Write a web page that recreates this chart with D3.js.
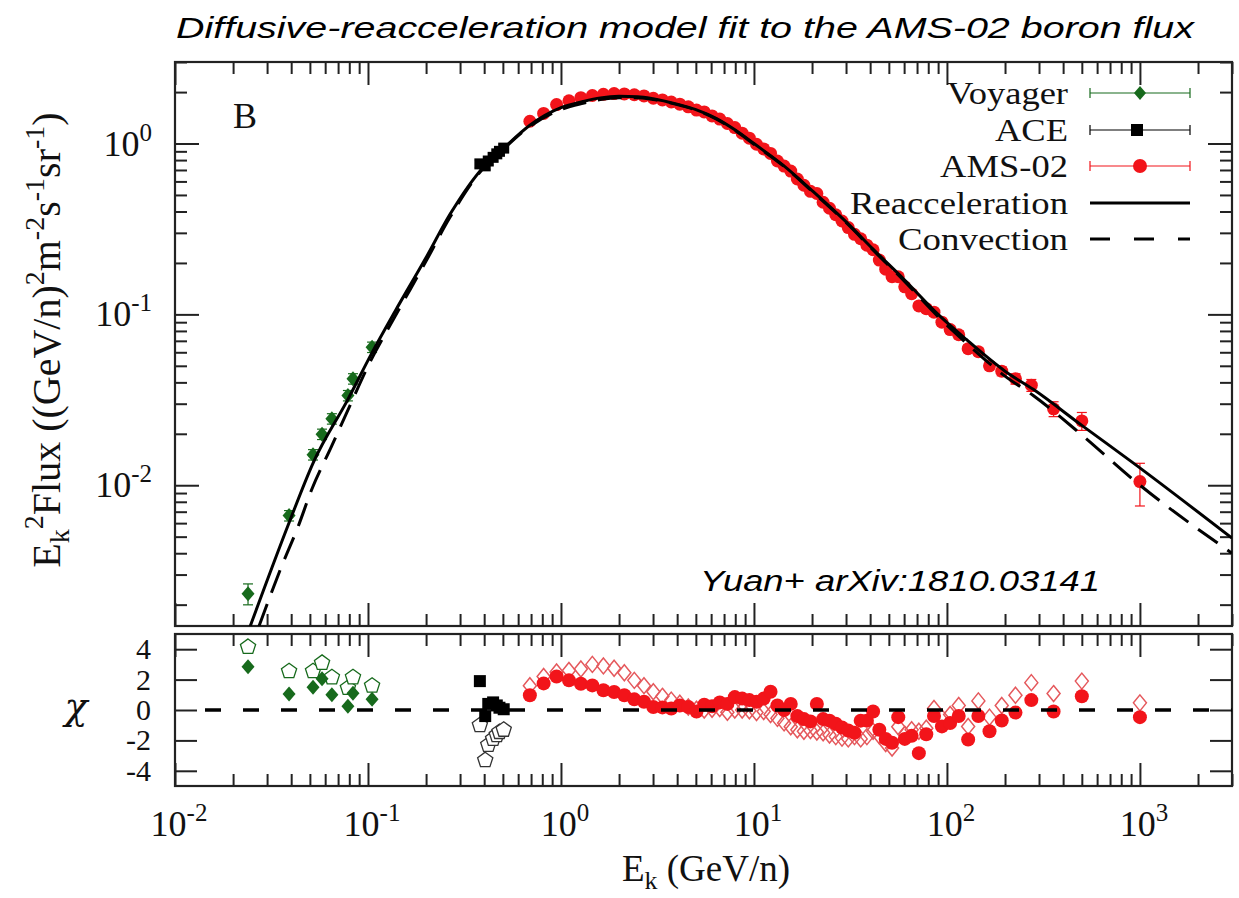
<!DOCTYPE html>
<html><head><meta charset="utf-8">
<script src="https://cdn.jsdelivr.net/npm/d3@7/dist/d3.min.js"></script>
<style>html,body{margin:0;padding:0;background:#fff;} svg{display:block;}</style>
</head><body>
<svg id="chart" width="1239" height="898"></svg>
<script>
// ---------------- DATA ----------------
const voyagerE = [0.0239, 0.039, 0.0519, 0.0578, 0.065, 0.0787, 0.0836, 0.105];
const voyagerF = [0.00232, 0.00664, 0.0151, 0.0199, 0.0245, 0.0335, 0.042, 0.0643];
const voyagerErr = [0.14, 0.07, 0.07, 0.07, 0.07, 0.07, 0.07, 0.07];
const voyagerChiReacc = [2.85, 1.05, 1.5, 2.05, 1.0, 0.25, 1.1, 0.7];
const voyagerChiConv = [4.15, 2.55, 2.55, 3.1, 2.15, 1.45, 2.15, 1.6];

const aceE = [0.38, 0.405, 0.42, 0.445, 0.465, 0.48, 0.505];
const aceF = [0.76, 0.74, 0.79, 0.83, 0.87, 0.90, 0.94];
const aceErr = [0.05, 0.05, 0.05, 0.05, 0.05, 0.05, 0.05];
const aceChiReacc = [1.9, -0.4, 0.4, 0.5, 0.3, 0.15, 0.05];
const aceChiConv = [-1.0, -3.3, -2.3, -1.9, -1.65, -1.45, -1.3];

const amsE = [0.69, 0.813, 0.949, 1.10, 1.268, 1.454, 1.659, 1.885, 2.13, 2.399,
  2.693, 3.01, 3.355, 3.728, 4.129, 4.569, 5.038, 5.525, 6.065, 6.647,
  7.283, 7.957, 8.687, 9.466, 10.31, 11.23, 12.19, 13.23, 14.33, 15.51,
  16.78, 18.15, 19.62, 21.18, 22.83, 24.63, 26.54, 28.59, 30.81, 33.19,
  35.74, 38.48, 41.43, 44.63, 48.16, 51.95, 55.95, 60.44, 65.63, 71.53,
  78.14, 85.69, 94.18, 103.9, 115.1, 128.8, 145.5, 166.2, 192.3, 226.5,
  273.7, 357, 500, 1000];
const amsF = [1.35, 1.50, 1.69, 1.78, 1.855, 1.91, 1.94, 1.96, 1.95, 1.93,
  1.90, 1.84, 1.80, 1.75, 1.70, 1.64, 1.57, 1.53, 1.45, 1.39,
  1.31, 1.24, 1.15, 1.075, 0.99, 0.93, 0.875, 0.79, 0.738, 0.69,
  0.62, 0.57, 0.525, 0.51, 0.453, 0.418, 0.383, 0.352, 0.322, 0.294,
  0.277, 0.254, 0.239, 0.208, 0.184, 0.166, 0.166, 0.145, 0.132, 0.112,
  0.108, 0.103, 0.090, 0.0815, 0.0760, 0.063, 0.0605, 0.050, 0.0465, 0.0420,
  0.0385, 0.028, 0.0238, 0.0105];
const amsErr = [0.03, 0.03, 0.03, 0.03, 0.03, 0.03, 0.03, 0.03, 0.03, 0.03,
  0.03, 0.03, 0.03, 0.03, 0.03, 0.03, 0.03, 0.03, 0.03, 0.03,
  0.03, 0.03, 0.03, 0.03, 0.03, 0.03, 0.03, 0.03, 0.03, 0.03,
  0.03, 0.03, 0.03, 0.03, 0.03, 0.03, 0.03, 0.03, 0.03, 0.03,
  0.04, 0.04, 0.04, 0.04, 0.04, 0.04, 0.04, 0.04, 0.04, 0.04,
  0.05, 0.05, 0.05, 0.05, 0.05, 0.05, 0.05, 0.05, 0.06, 0.07,
  0.08, 0.10, 0.12, 0.28];
const amsChiReacc = [0.97, 1.75, 2.2, 1.95, 1.73, 1.62, 1.3, 1.18, 0.97, 0.7,
  0.54, 0.2, 0.17, 0.1, 0.3, 0.2, -0.1, 0.35, 0.25, 0.5,
  0.4, 0.85, 0.75, 0.65, 0.54, 0.75, 1.2, 0.3, 0.0, 0.4,
  -0.4, -0.6, -0.75, 0.4, -0.6, -0.7, -0.9, -1.15, -1.35, -1.5,
  -0.7, -0.7, -0.1, -1.3, -1.9, -2.15, -0.47, -1.9, -1.7, -2.84,
  -1.6, -0.39, -1.08, -0.86, -0.39, -1.94, -0.39, -1.4, -0.69, -0.17,
  0.65, -0.1, 0.9, -0.47];
const amsChiConv = [1.6, 2.2, 2.5, 2.6, 2.7, 3.0, 2.9, 2.75, 2.45, 1.95,
  1.6, 1.2, 0.9, 0.65, 0.45, 0.2, 0.05, 0.0, 0.05, 0.1,
  -0.15, 0.0, 0.0, -0.05, -0.17, -0.1, -0.3, -0.55, -0.85, -1.1,
  -1.3, -1.4, -1.35, -1.45, -1.5, -1.65, -1.75, -1.85, -1.9, -1.75,
  -1.9, -1.75, -1.4, -1.7, -2.2, -2.5, -1.1, -1.6, -1.3, -1.4,
  -1.2, 0.1, -0.5, -0.3, 0.3, -1.08, 0.6, -0.47, 0.3, 0.97,
  1.8, 1.08, 1.9, 0.47];

const reaccE = [0.0245, 0.039, 0.052, 0.0787, 0.105, 0.138, 0.2, 0.266, 0.395, 0.5, 0.69, 1.0, 1.3, 1.6, 2.0, 2.5, 3.0, 4.0, 5.0, 6.4, 8.0, 10, 14.2, 20, 31.4, 41.4, 60, 90, 126, 200, 280, 500, 922, 3000];
const reaccF = [0.00149, 0.00603, 0.01352, 0.0318, 0.0597, 0.104, 0.215, 0.385, 0.725, 0.93, 1.28, 1.62, 1.76, 1.85, 1.89, 1.88, 1.83, 1.70, 1.58, 1.40, 1.20, 1.00, 0.745, 0.53, 0.331, 0.241, 0.160, 0.100, 0.0713, 0.0465, 0.0364, 0.0224, 0.01352, 0.0049];
const convE = [0.0272, 0.0357, 0.0435, 0.0511, 0.0648, 0.079, 0.1, 0.138, 0.2, 0.266, 0.395, 0.5, 0.69, 1.0, 1.3, 1.6, 2.0, 2.5, 3.0, 4.0, 5.0, 6.4, 8.0, 10, 14.2, 20, 31.4, 41.4, 60, 90, 126, 200, 280, 500, 922, 3000];
const convF = [0.00149, 0.00336, 0.00575, 0.00944, 0.01694, 0.0278, 0.0498, 0.097, 0.205, 0.37, 0.715, 0.92, 1.26, 1.58, 1.72, 1.81, 1.855, 1.855, 1.81, 1.69, 1.57, 1.39, 1.19, 0.99, 0.74, 0.525, 0.328, 0.238, 0.157, 0.097, 0.068, 0.0435, 0.0335, 0.0197, 0.0108, 0.0040];

const xTickExps = ["-2", "-1", "0", "1", "2", "3"];
const yTickExps = ["0", "-1", "-2"];
const chiTicks = [-4, -2, 0, 2, 4];
const legendLabels = ["Voyager", "ACE", "AMS-02", "Reacceleration", "Convection"];
const titleText = "Diffusive-reacceleration model fit to the AMS-02 boron flux";
const noteText = "Yuan+ arXiv:1810.03141";
const panelLabel = "B";

// ---------------- SETUP ----------------
const SERIF = "'Liberation Serif','Times New Roman',Times,serif";
const SANS = "'Liberation Sans',Arial,sans-serif";
const GREEN = "#176a1c", RED = "#f2141a", PINK = "#e5585c", INK = "#111";
const svg = d3.select("#chart");
svg.append("rect").attr("width", 1239).attr("height", 898).attr("fill", "#fff");

const X0 = 175, X1 = 1232, TOP = 62, BOT = 626, CTOP = 634, CBOT = 786;
const x = d3.scaleLog().domain([0.01, 3000]).range([X0, X1]);
const y = d3.scaleLog().domain([0.0015, 3]).range([BOT, TOP]);
const yc = d3.scaleLinear().domain([-5, 5]).range([CBOT, CTOP]);

const xMajor = xTickExps.map(e => Math.pow(10, +e));
const xMinor = [];
xMajor.forEach(m => { for (let k = 2; k <= 9; k++) { const v = k * m; if (v <= 3000) xMinor.push(v); } });
const yMajor = [1, 0.1, 0.01];
const yMinor = [];
[0.001, 0.01, 0.1, 1].forEach(m => { for (let k = 2; k <= 9; k++) { const v = k * m; if (v >= 0.0015 && v <= 3) yMinor.push(v); } });

function tickAxis(axis, tf, vals, len) {
  const g = svg.append("g").attr("transform", tf)
    .call(axis.tickValues(vals).tickSize(-len).tickFormat(""));
  g.select(".domain").remove();
  g.selectAll("line").attr("stroke", "#222").attr("stroke-width", 2);
}
// upper panel ticks
tickAxis(d3.axisBottom(x), `translate(0,${BOT})`, xMajor, 23);
tickAxis(d3.axisBottom(x), `translate(0,${BOT})`, xMinor, 12);
tickAxis(d3.axisTop(x), `translate(0,${TOP})`, xMajor, 23);
tickAxis(d3.axisTop(x), `translate(0,${TOP})`, xMinor, 12);
tickAxis(d3.axisLeft(y), `translate(${X0},0)`, yMajor, 24);
tickAxis(d3.axisLeft(y), `translate(${X0},0)`, yMinor, 12);
tickAxis(d3.axisRight(y), `translate(${X1},0)`, yMajor, 24);
tickAxis(d3.axisRight(y), `translate(${X1},0)`, yMinor, 12);
// lower panel ticks
tickAxis(d3.axisBottom(x), `translate(0,${CBOT})`, xMajor, 23);
tickAxis(d3.axisBottom(x), `translate(0,${CBOT})`, xMinor, 12);
tickAxis(d3.axisTop(x), `translate(0,${CTOP})`, xMajor, 23);
tickAxis(d3.axisTop(x), `translate(0,${CTOP})`, xMinor, 12);
tickAxis(d3.axisLeft(yc), `translate(${X0},0)`, chiTicks, 22);
tickAxis(d3.axisRight(yc), `translate(${X1},0)`, chiTicks, 22);

// frames
[[TOP, BOT], [CTOP, CBOT]].forEach(([t, b]) => {
  svg.append("rect").attr("x", X0).attr("y", t).attr("width", X1 - X0).attr("height", b - t)
    .attr("fill", "none").attr("stroke", "#222").attr("stroke-width", 2.2);
});

// tick labels
function powText(g, px, py, exp, anchor) {
  const t = g.append("text").attr("x", px).attr("y", py).attr("text-anchor", anchor)
    .attr("font-family", SERIF).attr("font-size", 36).attr("fill", INK);
  t.append("tspan").text("10");
  t.append("tspan").attr("dy", -15).attr("font-size", 25).text(exp);
}
const labG = svg.append("g");
xTickExps.forEach((e, i) => powText(labG, x(xMajor[i]) + 4, 836, e, "middle"));
yTickExps.forEach((e, i) => powText(labG, 152, y(yMajor[i]) + 12, e, "end"));
chiTicks.forEach(v => {
  labG.append("text").attr("x", 151).attr("y", yc(v) + 10).attr("text-anchor", "end")
    .attr("font-family", SERIF).attr("font-size", 30).attr("fill", INK).text(v);
});

// axis titles
function richText(g, parts, attrs, fs) {
  const t = g.append("text").attr("font-family", SERIF).attr("font-size", fs).attr("fill", INK);
  Object.entries(attrs).forEach(([k, v]) => t.attr(k, v));
  parts.forEach(p => {
    const s = t.append("tspan").text(p.t);
    if (p.dy) s.attr("dy", p.dy);
    if (p.fs) s.attr("font-size", p.fs);
  });
  return t;
}
richText(svg, [
  { t: "E" }, { t: "k", dy: 9, fs: 28 }, { t: "2", dy: -26, fs: 28 }, { t: "Flux ((GeV/n)", dy: 17 },
  { t: "2", dy: -16, fs: 28 }, { t: "m", dy: 16 }, { t: "-2", dy: -16, fs: 28 }, { t: "s", dy: 16 },
  { t: "-1", dy: -16, fs: 28 }, { t: "sr", dy: 16 }, { t: "-1", dy: -16, fs: 28 }, { t: ")", dy: 16 }
], { "text-anchor": "middle", transform: "translate(60,340) rotate(-90)" }, 40);
richText(svg, [{ t: "E" }, { t: "k", dy: 8, fs: 26 }, { t: " (GeV/n)", dy: -8 }],
  { "text-anchor": "middle", x: 706, y: 881 }, 37);
svg.append("text").attr("x", 76).attr("y", 719).attr("text-anchor", "middle")
  .attr("font-family", "'DejaVu Serif',serif").attr("font-style", "italic")
  .attr("font-size", 38).attr("fill", INK).text("χ");
svg.append("text").attr("x", 233).attr("y", 128).attr("font-family", SERIF)
  .attr("font-size", 36).attr("fill", INK).text(panelLabel);

// title and note
svg.append("text").attr("x", 176).attr("y", 38).attr("font-family", SANS).attr("font-style", "italic")
  .attr("font-size", 30).attr("fill", "#000").attr("textLength", 1018).attr("lengthAdjust", "spacingAndGlyphs")
  .text(titleText);
svg.append("text").attr("x", 700).attr("y", 591).attr("font-family", SANS).attr("font-style", "italic")
  .attr("font-size", 30).attr("fill", "#000").attr("textLength", 400).attr("lengthAdjust", "spacingAndGlyphs")
  .text(noteText);

// clip paths
const defs = svg.append("defs");
defs.append("clipPath").attr("id", "clipTop").append("rect")
  .attr("x", X0).attr("y", TOP).attr("width", X1 - X0).attr("height", BOT - TOP);
defs.append("clipPath").attr("id", "clipBot").append("rect")
  .attr("x", X0).attr("y", CTOP).attr("width", X1 - X0).attr("height", CBOT - CTOP);

// marker shapes
const diamond = (w, h) => `M0,${-h}L${w},0L0,${h}L${-w},0Z`;
const pentagon = r => d3.line()(d3.range(5).map(i => {
  const a = -Math.PI / 2 + i * 2 * Math.PI / 5; return [r * Math.cos(a), r * Math.sin(a)];
})) + "Z";
const square = s => `M${-s},${-s}H${s}V${s}H${-s}Z`;
const circle = d3.symbol().type(d3.symbolCircle);

// ---------------- UPPER PANEL ----------------
const up = svg.append("g").attr("clip-path", "url(#clipTop)");
function errBars(E, F, R, color) {
  E.forEach((e, i) => {
    const cx = x(e), y1 = y(F[i] * (1 + R[i])), y2 = y(F[i] * (1 - R[i]));
    const g = up.append("g").attr("stroke", color).attr("stroke-width", 1.2);
    g.append("line").attr("x1", cx).attr("x2", cx).attr("y1", y1).attr("y2", y2);
    g.append("line").attr("x1", cx - 5).attr("x2", cx + 5).attr("y1", y1).attr("y2", y1);
    g.append("line").attr("x1", cx - 5).attr("x2", cx + 5).attr("y1", y2).attr("y2", y2);
  });
}
errBars(voyagerE, voyagerF, voyagerErr, GREEN);
errBars(aceE, aceF, aceErr, "#000");
errBars(amsE, amsF, amsErr, RED);

up.selectAll(".voy").data(voyagerE).join("path")
  .attr("transform", (d, i) => `translate(${x(d)},${y(voyagerF[i])})`)
  .attr("d", diamond(6.5, 7.5)).attr("fill", GREEN);
up.selectAll(".ace").data(aceE).join("path")
  .attr("transform", (d, i) => `translate(${x(d)},${y(aceF[i])})`)
  .attr("d", square(5.5)).attr("fill", "#000");
up.selectAll(".ams").data(amsE).join("path")
  .attr("transform", (d, i) => `translate(${x(d)},${y(amsF[i])})`)
  .attr("d", circle.size(Math.PI * 6.5 * 6.5)()).attr("fill", RED);

const curve = d3.line().x(d => x(d[0])).y(d => y(d[1])).curve(d3.curveMonotoneX);
up.append("path").attr("d", curve(reaccE.map((e, i) => [e, reaccF[i]])))
  .attr("fill", "none").attr("stroke", "#000").attr("stroke-width", 3);
up.append("path").attr("d", curve(convE.map((e, i) => [e, convF[i]])))
  .attr("fill", "none").attr("stroke", "#000").attr("stroke-width", 3).attr("stroke-dasharray", "24,12");

// legend
const legRows = [93, 130, 166, 203, 239];
const legWidths = [121, 73, 128, 218, 170];
const LX1 = 1090, LX2 = 1190, LXM = 1140;
legendLabels.forEach((lab, i) => {
  svg.append("text").attr("x", 1068 - legWidths[i]).attr("y", legRows[i] + 11)
    .attr("font-family", SERIF).attr("font-size", 31).attr("fill", INK)
    .attr("textLength", legWidths[i]).attr("lengthAdjust", "spacingAndGlyphs").text(lab);
});
[[GREEN, 0], ["#000", 1], [RED, 2]].forEach(([c, i]) => {
  const ly = legRows[i];
  const g = svg.append("g").attr("stroke", c).attr("stroke-width", 1.2);
  g.append("line").attr("x1", LX1).attr("x2", LX2).attr("y1", ly).attr("y2", ly);
  g.append("line").attr("x1", LX1).attr("x2", LX1).attr("y1", ly - 5).attr("y2", ly + 5);
  g.append("line").attr("x1", LX2).attr("x2", LX2).attr("y1", ly - 5).attr("y2", ly + 5);
});
svg.append("path").attr("transform", `translate(${LXM},${legRows[0]})`).attr("d", diamond(6, 7)).attr("fill", GREEN);
svg.append("path").attr("transform", `translate(${LXM - 3},${legRows[1]})`).attr("d", square(6)).attr("fill", "#000");
svg.append("path").attr("transform", `translate(${LXM},${legRows[2]})`).attr("d", circle.size(Math.PI * 7 * 7)()).attr("fill", RED);
svg.append("line").attr("x1", LX1).attr("x2", LX2).attr("y1", legRows[3]).attr("y2", legRows[3])
  .attr("stroke", "#000").attr("stroke-width", 3);
svg.append("line").attr("x1", LX1).attr("x2", LX2).attr("y1", legRows[4]).attr("y2", legRows[4])
  .attr("stroke", "#000").attr("stroke-width", 3).attr("stroke-dasharray", "20,24");

// ---------------- LOWER PANEL ----------------
const lo = svg.append("g").attr("clip-path", "url(#clipBot)");
function chiMarks(E, C, pathD, style) {
  lo.append("g").selectAll("path").data(E).join("path")
    .attr("transform", (d, i) => `translate(${x(d)},${yc(C[i])})`)
    .attr("d", pathD)
    .attr("fill", style.fill || "none").attr("stroke", style.stroke || "none")
    .attr("stroke-width", style.sw || 0);
}
chiMarks(voyagerE, voyagerChiConv, pentagon(8), { stroke: GREEN, sw: 1.3, fill: "#fff" });
chiMarks(aceE, aceChiConv, pentagon(8), { stroke: "#333", sw: 1.3, fill: "#fff" });
chiMarks(amsE, amsChiConv, diamond(6.5, 8), { stroke: PINK, sw: 1.5, fill: "none" });
chiMarks(voyagerE, voyagerChiReacc, diamond(6.5, 7.5), { fill: GREEN });
chiMarks(aceE, aceChiReacc, square(6), { fill: "#000" });
chiMarks(amsE, amsChiReacc, circle.size(Math.PI * 7 * 7)(), { fill: RED });
lo.append("line").attr("x1", X0 + 30).attr("x2", X1).attr("y1", yc(0)).attr("y2", yc(0))
  .attr("stroke", "#000").attr("stroke-width", 3.5).attr("stroke-dasharray", "16,22");
</script>
</body></html>
